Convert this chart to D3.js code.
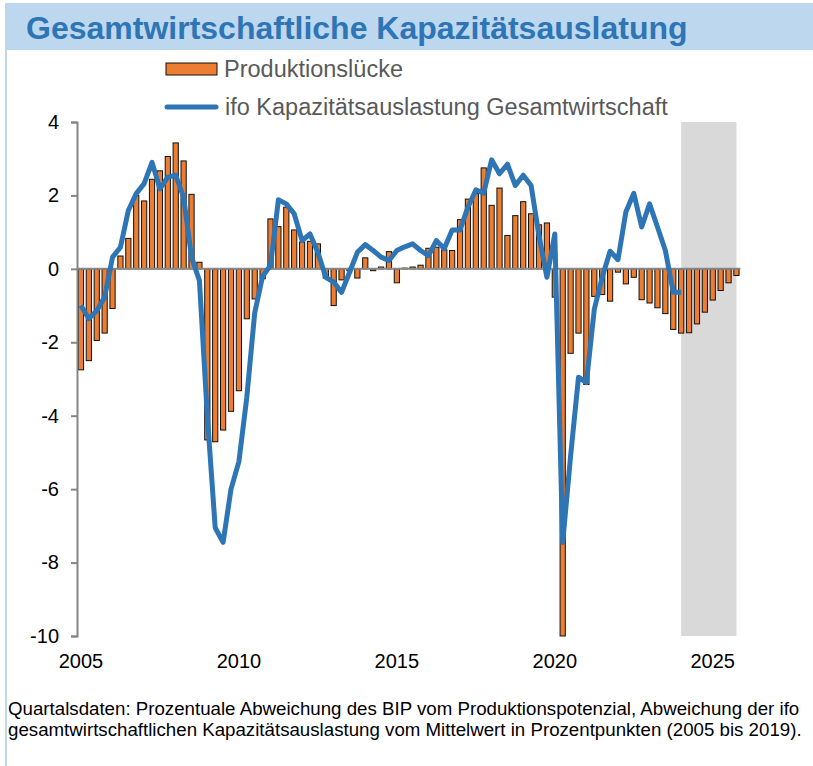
<!DOCTYPE html>
<html>
<head>
<meta charset="utf-8">
<script src="https://cdn.jsdelivr.net/npm/d3@7"></script>
<style>
  body { margin: 0; background: #fff; }
  svg { display: block; font-family: "Liberation Sans", Arial, sans-serif; }
</style>
</head>
<body>
<div id="chart"></div>
<script>
// Jahre / Quartale
const years = d3.range(2005, 2026);
const quarters = years.flatMap(y => [1, 2, 3, 4].map(q => y + 'Q' + q));
const tickYears = [2005, 2010, 2015, 2020, 2025];
const yTicks = [-10, -8, -6, -4, -2, 0, 2, 4];
const forecastStart = '2024Q1';

// Produktionslücke (2005Q1 - 2025Q4)
const gapValues = [
  -2.75, -2.5, -1.95, -1.75,  -1.08, 0.35, 0.83, 2.0,
  1.85, 2.44, 2.67, 3.06,     3.43, 2.94, 2.03, 0.18,
  -4.66, -4.71, -4.39, -3.88, -3.32, -1.36, -0.82, -0.27,
  1.36, 1.15, 1.68, 1.06,     0.73, 0.75, 0.68, -0.25,
  -1.0, -0.3, -0.05, -0.25,   0.3, -0.05, 0.05, 0.47,
  -0.38, 0.02, 0.05, 0.1,     0.56, 0.59, 0.52, 0.5,
  1.34, 1.9, 2.05, 2.75,      1.73, 2.2, 0.91, 1.45,
  1.83, 1.5, 1.2, 1.25,       -0.77, -10.0, -2.3, -1.75,
  -3.15, -0.75, -0.7, -0.88,  -0.09, -0.41, -0.23, -0.84,
  -0.93, -1.06, -1.22, -1.65, -1.75, -1.74, -1.5, -1.18,
  -0.85, -0.59, -0.38, -0.18
];

// ifo Kapazitätsauslastung (2005Q1 - 2024Q1)
const ifoValues = [
  -1.0, -1.36, -1.14, -0.77,  0.32, 0.59, 1.59, 2.05,
  2.32, 2.9, 2.18, 2.5,       2.55, 1.95, 0.32, -0.32,
  -4.0, -7.05, -7.45, -6.0,   -5.25, -3.5, -1.2, -0.2,
  0.09, 1.88, 1.77, 1.5,      0.77, 0.95, 0.45, -0.23,
  -0.36, -0.64, -0.1, 0.45,   0.66, 0.5, 0.32, 0.23,
  0.5, 0.6, 0.68, 0.5,        0.36, 0.77, 0.55, 1.06,
  1.06, 1.68, 2.15, 2.06,     2.97, 2.59, 2.85, 2.27,
  2.55, 2.27, 0.9, -0.23,     0.95, -7.45, -5.1, -2.95,
  -3.1, -1.1, -0.23, 0.48,    0.25, 1.55, 2.06, 1.14,
  1.77, 1.14, 0.5, -0.64,     -0.64
];

const width = 813, height = 766;
const plot = { left: 77, right: 740.4, top: 122, bottom: 636 };
const orange = '#ED7D31', blue = '#2E75B6';

const svg = d3.select('#chart').append('svg')
  .attr('width', width).attr('height', height);

// Titelbalken
svg.append('rect').attr('x', 5).attr('y', 3).attr('width', width - 5).attr('height', 47)
  .attr('fill', '#BDD7EE');
svg.append('line').attr('x1', 6).attr('x2', 6).attr('y1', 50).attr('y2', height)
  .attr('stroke', '#BDD7EE').attr('stroke-width', 2);
svg.append('text').attr('x', 26).attr('y', 39)
  .attr('fill', blue).attr('font-size', 32).attr('font-weight', 'bold')
  .text('Gesamtwirtschaftliche Kapazitätsauslatung');

const x = d3.scaleBand().domain(quarters).range([plot.left, plot.right]).paddingInner(0.34).paddingOuter(0.17);
const xc = q => x(q) + x.bandwidth() / 2;
const y = d3.scaleLinear().domain([-10, 4]).range([plot.bottom, plot.top]);

// Prognosebereich
const lastQ = quarters[quarters.length - 1];
svg.append('rect')
  .attr('x', xc(forecastStart)).attr('y', plot.top)
  .attr('width', xc(lastQ) - xc(forecastStart)).attr('height', plot.bottom - plot.top)
  .attr('fill', '#D9D9D9');

// Balken
const bars = quarters.map((q, i) => ({ q, v: gapValues[i] }));
svg.append('g').selectAll('rect').data(bars).enter().append('rect')
  .attr('x', d => x(d.q))
  .attr('width', x.bandwidth())
  .attr('y', d => y(Math.max(0, d.v)))
  .attr('height', d => Math.abs(y(Math.max(d.v, -10)) - y(0)))
  .attr('fill', orange)
  .attr('stroke', '#111').attr('stroke-width', 1);

// y-Achse
const yAxis = svg.append('g').attr('transform', 'translate(' + plot.left + ',0)')
  .call(d3.axisLeft(y).tickValues(yTicks).tickSize(6).tickPadding(12).tickFormat(d => String(d)));
yAxis.select('.domain').attr('stroke', '#868686').attr('stroke-width', 2);
yAxis.selectAll('.tick line').attr('stroke', '#868686').attr('stroke-width', 2);
yAxis.selectAll('.tick text').attr('font-size', 20).attr('fill', '#000')
  .attr('font-family', '"Liberation Sans", Arial, sans-serif');

// Nulllinie
svg.append('line').attr('x1', plot.left).attr('x2', plot.right)
  .attr('y1', y(0)).attr('y2', y(0))
  .attr('stroke', '#868686').attr('stroke-width', 2);

// x-Beschriftung
svg.append('g').selectAll('text').data(tickYears).enter().append('text')
  .attr('x', d => xc(d + 'Q1')).attr('y', 668)
  .attr('text-anchor', 'middle').attr('font-size', 20).attr('fill', '#000')
  .text(d => d);

// ifo-Linie
const line = d3.line().x(d => xc(d.q)).y(d => y(d.v));
svg.append('path')
  .datum(ifoValues.map((v, i) => ({ q: quarters[i], v })))
  .attr('d', line)
  .attr('fill', 'none').attr('stroke', blue).attr('stroke-width', 5)
  .attr('stroke-linejoin', 'round');

// Legende
const legend = svg.append('g');
legend.append('rect').attr('x', 166).attr('y', 63).attr('width', 51).attr('height', 12)
  .attr('fill', orange).attr('stroke', '#111').attr('stroke-width', 1);
legend.append('text').attr('x', 224).attr('y', 77).attr('font-size', 23.5).attr('fill', '#595959')
  .text('Produktionslücke');
legend.append('line').attr('x1', 167).attr('x2', 216).attr('y1', 107).attr('y2', 107)
  .attr('stroke', blue).attr('stroke-width', 5).attr('stroke-linecap', 'round');
legend.append('text').attr('x', 225).attr('y', 115).attr('font-size', 23.5).attr('fill', '#595959')
  .text('ifo Kapazitätsauslastung Gesamtwirtschaft');

// Fußnote
const note = svg.append('text').attr('font-size', 18.7).attr('fill', '#000');
note.append('tspan').attr('x', 8).attr('y', 715)
  .text('Quartalsdaten: Prozentuale Abweichung des BIP vom Produktionspotenzial, Abweichung der ifo');
note.append('tspan').attr('x', 8).attr('y', 736)
  .text('gesamtwirtschaftlichen Kapazitätsauslastung vom Mittelwert in Prozentpunkten (2005 bis 2019).');
</script>
</body>
</html>
